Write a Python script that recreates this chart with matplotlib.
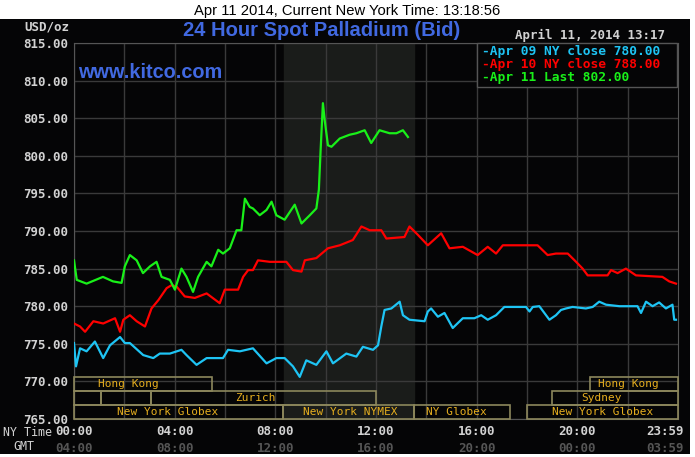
import matplotlib
matplotlib.use("Agg")
import matplotlib.pyplot as plt
from matplotlib.patches import Rectangle
from matplotlib import transforms

# hours since 00:00 NY time, price in USD/oz
apr09_hours = [0.00, 0.08, 0.24, 0.50, 0.83, 1.16, 1.43, 1.83, 2.02, 2.22, 2.75, 3.15, 3.41, 3.81, 4.27,
               4.47, 4.87, 5.27, 5.66, 5.92, 6.12, 6.59, 7.11, 7.65, 8.04, 8.37, 8.70, 8.97, 9.23, 9.63,
               10.03, 10.29, 10.82, 11.22, 11.48, 11.88, 12.08, 12.21, 12.34, 12.61, 12.94, 13.07, 13.33,
               13.93, 14.06, 14.19, 14.46, 14.72, 15.05, 15.45, 15.91, 16.18, 16.44, 16.77, 17.10, 17.96,
               18.10, 18.23, 18.49, 18.89, 19.15, 19.35, 19.55, 19.81, 20.34, 20.61, 20.87, 21.14, 21.67,
               22.39, 22.53, 22.73, 22.99, 23.25, 23.52, 23.78, 23.85, 23.92]
apr09_price = [775.1, 772.0, 774.4, 774.0, 775.3, 773.1, 774.8, 775.9, 775.1, 775.1, 773.5, 773.1, 773.7,
               773.7, 774.2, 773.5, 772.2, 773.1, 773.1, 773.1, 774.2, 774.0, 774.4, 772.4, 773.1, 773.1,
               772.0, 770.6, 772.8, 772.2, 774.0, 772.4, 773.7, 773.3, 774.6, 774.2, 774.8, 777.3, 779.5,
               779.7, 780.6, 778.8, 778.2, 778.0, 779.3, 779.7, 778.6, 779.1, 777.1, 778.4, 778.4, 778.8,
               778.2, 778.8, 779.9, 779.9, 779.3, 779.9, 780.0, 778.2, 778.8, 779.5, 779.7, 779.9, 779.7,
               779.9, 780.6, 780.2, 780.0, 780.0, 779.1, 780.6, 780.0, 780.5, 779.7, 780.2, 778.2, 778.2]

apr10_hours = [0.00, 0.24, 0.44, 0.77, 1.16, 1.63, 1.83, 1.96, 2.22, 2.49, 2.82, 3.08, 3.35, 3.68, 3.88,
               4.08, 4.40, 4.80, 5.27, 5.79, 5.99, 6.52, 6.72, 6.92, 7.11, 7.31, 7.78, 8.44, 8.70, 9.04,
               9.17, 9.63, 10.09, 10.56, 11.08, 11.42, 11.75, 12.21, 12.41, 13.13, 13.33, 13.66, 14.06,
               14.59, 14.92, 15.45, 16.04, 16.44, 16.77, 17.04, 18.42, 18.82, 19.15, 19.62, 19.95, 20.21,
               20.41, 21.20, 21.34, 21.60, 21.93, 22.33, 23.38, 23.65, 23.92]
apr10_price = [777.7, 777.3, 776.6, 778.0, 777.7, 778.4, 776.6, 778.2, 778.8, 778.0, 777.3, 779.7, 780.8,
               782.4, 782.8, 782.6, 781.3, 781.1, 781.7, 780.4, 782.2, 782.2, 783.9, 784.8, 784.8, 786.1,
               785.9, 785.9, 784.8, 784.6, 786.1, 786.4, 787.7, 788.1, 788.8, 790.6, 790.1, 790.1, 789.0,
               789.2, 790.6, 789.5, 788.1, 789.7, 787.7, 787.9, 786.8, 787.9, 787.0, 788.1, 788.1, 786.8,
               787.0, 787.0, 785.9, 785.0, 784.1, 784.1, 784.8, 784.4, 785.0, 784.1, 783.9, 783.3, 783.0]

apr11_hours = [0.00, 0.11, 0.50, 1.15, 1.55, 1.89, 2.02, 2.22, 2.49, 2.74, 3.02, 3.28, 3.48, 3.81, 4.01,
               4.27, 4.47, 4.73, 4.93, 5.27, 5.46, 5.73, 5.92, 6.19, 6.46, 6.65, 6.79, 6.98, 7.11, 7.38,
               7.65, 7.85, 8.04, 8.37, 8.77, 9.04, 9.37, 9.63, 9.73, 9.80, 9.89, 9.96, 10.09, 10.23, 10.56,
               10.95, 11.22, 11.55, 11.81, 12.14, 12.54, 12.81, 13.07, 13.27]
apr11_price = [786.1, 783.5, 783.0, 783.9, 783.3, 783.1, 785.3, 786.8, 786.1, 784.4, 785.3, 785.9, 783.9,
               783.5, 782.2, 785.0, 783.9, 781.9, 783.9, 785.9, 785.3, 787.5, 787.0, 787.7, 790.1, 790.1,
               794.3, 793.2, 793.0, 792.1, 792.8, 793.9, 792.1, 791.5, 793.5, 791.0, 792.1, 793.0, 795.5,
               800.8, 807.0, 804.8, 801.4, 801.2, 802.3, 802.8, 803.0, 803.4, 801.7, 803.4, 803.0, 803.0,
               803.4, 802.5]

legend_labels = ["-Apr 09 NY close 780.00", "-Apr 10 NY close 788.00", "-Apr 11 Last 802.00"]

tick_hours = [0, 4, 8, 12, 16, 20, 24]
ny_labels = ["00:00", "04:00", "08:00", "12:00", "16:00", "20:00", "23:59"]
gmt_labels = ["04:00", "08:00", "12:00", "16:00", "20:00", "00:00", "03:59"]

# market sessions: row 0 is the top strip
sess_names = ["Hong Kong", "", "", "Zurich", "New York Globex", "New York NYMEX", "NY Globex",
              "New York Globex", "Sydney", "Hong Kong"]
sess_start = [0, 0, 1.06, 3.06, 0, 8.31, 13.5, 18.0, 19.0, 20.5]
sess_end = [5.5, 1.06, 3.06, 12.0, 8.31, 13.5, 17.33, 24, 24, 24]
sess_row = [0, 1, 1, 1, 2, 2, 2, 2, 1, 0]
sess_text_at = [0.96, 0, 0, 6.39, 1.69, 9.08, 14.0, 18.98, 20.15, 20.83]
nymex_open, nymex_close = 8.33, 13.5

bg = "#050506"
grid_c = "#3a3a3a"
shade_c = "#1a1c1a"
label_c = "#d2d2d2"
gmt_c = "#555555"
kitco_blue = "#4169e1"
line_colors = ["#1ec4f4", "#ff0000", "#19f019"]
box_c = "#8c875c"
sess_txt_c = "#e6ae1e"
mono = "DejaVu Sans Mono"

W, H = 695, 457
fig = plt.figure(figsize=(W / 100, H / 100), dpi=100, facecolor="white")


def fpos(x, y):
    return x / W, 1 - y / H


fig.add_artist(Rectangle((0, 3 / H), 690 / W, 435 / H, transform=fig.transFigure,
                         facecolor=bg, edgecolor="none", zorder=-5))

ax = fig.add_axes([74 / W, 38 / H, 604 / W, 376 / H])
ax.set_facecolor(bg)
ax.axvspan(nymex_open, nymex_close, color=shade_c, zorder=0)

ax.plot(apr09_hours, apr09_price, color=line_colors[0], lw=1.6, zorder=3)
ax.plot(apr10_hours, apr10_price, color=line_colors[1], lw=1.6, zorder=3)
ax.plot(apr11_hours, apr11_price, color=line_colors[2], lw=1.6, zorder=3)

ax.set_xlim(0, 24)
ax.set_ylim(765, 815)
ax.set_xticks(range(0, 24, 2))
ax.set_xticklabels([])
yt = list(range(765, 816, 5))
ax.set_yticks(yt)
ax.set_yticklabels(["%.2f" % v for v in yt], fontfamily=mono, fontweight="bold", fontsize=9, color=label_c)
ax.tick_params(length=0, pad=4)
ax.grid(True, color=grid_c, lw=1)
ax.set_axisbelow(True)
for s in ax.spines.values():
    s.set_color("#555555")

blend = transforms.blended_transform_factory(ax.transData, ax.transAxes)

# session boxes at the bottom of the chart
row_edges = [0.111, 0.0735, 0.0365, 0.0]
for name, a, b, r, t in zip(sess_names, sess_start, sess_end, sess_row, sess_text_at):
    y0 = row_edges[r + 1]
    h = row_edges[r] - y0
    ax.add_patch(Rectangle((a, y0), b - a, h, transform=blend, fill=False, edgecolor=box_c,
                           lw=1.2, zorder=4, clip_on=False))
    if name:
        ax.text(t, y0 + h / 2, name, transform=blend, ha="left", va="center", fontfamily=mono,
                fontsize=8, color=sess_txt_c, zorder=5)

# time axis, NY time and GMT
for t, ny, gmt in zip(tick_hours, ny_labels, gmt_labels):
    dx = -9.4 if t == 24 else 0
    ax.annotate(ny, (t, 0), xycoords=blend, xytext=(dx, -9), textcoords="offset points",
                ha="center", va="center", fontfamily=mono, fontweight="bold", fontsize=9, color=label_c)
    ax.annotate(gmt, (t, 0), xycoords=blend, xytext=(dx, -21), textcoords="offset points",
                ha="center", va="center", fontfamily=mono, fontweight="bold", fontsize=9, color=gmt_c)

fig.text(*fpos(52, 433), "NY Time", ha="right", va="center", fontfamily=mono, fontsize=8.4, color=label_c)
fig.text(*fpos(24, 447), "GMT", ha="center", va="center", fontfamily=mono, fontsize=8.4, color=label_c)
fig.text(*fpos(69, 27), "USD/oz", ha="right", va="center", fontfamily=mono, fontweight="bold",
         fontsize=9, color=label_c)

fig.text(*fpos(347, 10.5), "Apr 11 2014, Current New York Time: 13:18:56", ha="center", va="center",
         fontfamily="Liberation Sans", fontsize=10.6, color="black")
fig.text(*fpos(322, 30), "24 Hour Spot Palladium (Bid)", ha="center", va="center",
         fontfamily="Liberation Sans", fontweight="bold", fontsize=14.5, color=kitco_blue)
fig.text(*fpos(78, 73), "www.kitco.com", ha="left", va="center",
         fontfamily="Liberation Sans", fontweight="bold", fontsize=14.3, color=kitco_blue, zorder=6)
fig.text(*fpos(665, 35), "April 11, 2014 13:17", ha="right", va="center", fontfamily=mono,
         fontweight="bold", fontsize=9, color=label_c)

# legend box
fig.add_artist(Rectangle(fpos(477, 87), 200 / W, 44 / H, transform=fig.transFigure,
                         facecolor=bg, edgecolor="#555555", lw=1, zorder=5))
for i, (lab, c) in enumerate(zip(legend_labels, line_colors)):
    fig.text(*fpos(482, 51 + 13.5 * i), lab, ha="left", va="center", fontfamily=mono,
             fontweight="bold", fontsize=9.3, color=c, zorder=6)

fig.savefig("out.png", dpi=100, facecolor="white")
